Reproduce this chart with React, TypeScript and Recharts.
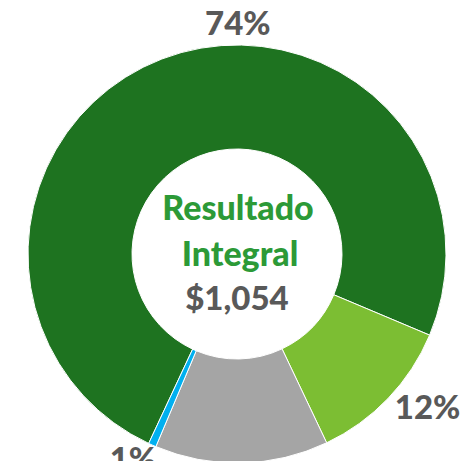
import React from 'react';
import { PieChart, Pie, Cell } from 'recharts';

// slice shares (degrees / 360)
const categories = ['Resultado', 'Otros', 'Impuestos', 'Ajustes'];
const shares = [74.4, 11.6, 13.4, 0.6];
const shareLabels = ['74%', '12%', '13%', '1%'];
const sliceColors = ['#1E7320', '#7CBE33', '#A5A5A5', '#00B0F0'];

const centerTitle = ['Resultado', 'Integral'];
const centerValue = '$1,054';

const data = categories.map((name, i) => ({ name, value: shares[i], label: shareLabels[i] }));

const RADIAN = Math.PI / 180;
const FONT = "Lato, 'Open Sans', sans-serif";
// where each label sits (angle shift from slice middle, radius from centre);
// the grey slice's label falls below the bottom edge in the reference
const labelPlacement = [
  { shift: -21.3, radius: 228 },
  { shift: 4.5, radius: 246 },
  null,
  { shift: -2.6, radius: 233 },
];

const renderLabel = (props: any) => {
  const { cx, cy, midAngle, index } = props;
  const p = labelPlacement[index];
  if (!p) return null;
  const a = (midAngle + p.shift) * RADIAN;
  const x = cx + p.radius * Math.cos(a);
  const y = cy - p.radius * Math.sin(a) - 4;
  return (
    <text
      x={x}
      y={y}
      textAnchor="middle"
      dominantBaseline="central"
      fill="#595959"
      fontSize={33}
      fontWeight={900}
      fontFamily={FONT}
    >
      {data[index].label}
    </text>
  );
};

const App = () => {
  const cx = 232;
  const cy = 249;
  return (
    <div style={{ position: 'absolute', left: 0, top: 0, width: 473, height: 461, background: '#fff' }}>
      <PieChart width={473} height={461}>
        <Pie
          data={data}
          dataKey="value"
          cx={cx}
          cy={cy}
          innerRadius={105}
          outerRadius={209}
          startAngle={245}
          endAngle={-115}
          stroke="#fff"
          strokeWidth={1}
          label={renderLabel}
          labelLine={false}
          isAnimationActive={false}
        >
          {data.map((d, i) => (
            <Cell key={d.name} fill={sliceColors[i]} />
          ))}
        </Pie>
        <text x={238} y={220} textAnchor="middle" fill="#2C9A37" fontSize={34} fontWeight={900} fontFamily={FONT}>
          {centerTitle[0]}
        </text>
        <text x={240} y={266} textAnchor="middle" fill="#2C9A37" fontSize={34} fontWeight={900} fontFamily={FONT}>
          {centerTitle[1]}
        </text>
        <text x={237} y={310} textAnchor="middle" fill="#595959" fontSize={33} fontWeight={900} fontFamily={FONT}>
          {centerValue}
        </text>
      </PieChart>
    </div>
  );
};

export default App;
